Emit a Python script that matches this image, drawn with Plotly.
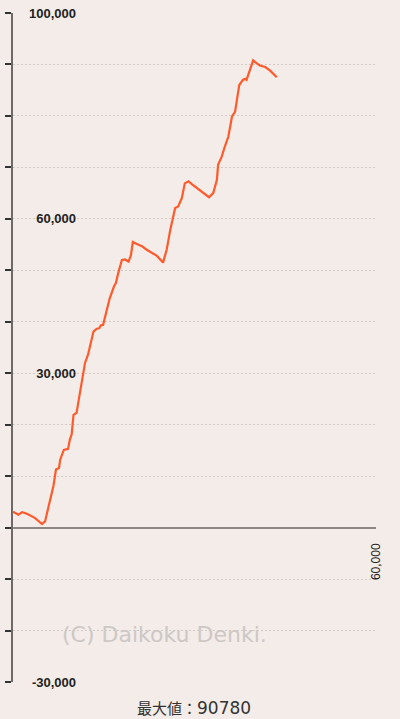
import plotly.graph_objects as go

games = [0, 900, 1500, 2300, 3600, 4800, 5300, 6000, 6700, 7100, 7600, 7800, 8400, 9100, 9400,
         9700, 10000, 10500, 11100, 11500, 11900, 12400, 12800, 13300, 13800, 14300, 14500, 14900,
         15500, 16000, 16700, 17000, 17400, 18000, 18500, 19100, 19500, 19800, 20300, 21300, 22100,
         22900, 23800, 24800, 25400, 26000, 26800, 27300, 27900, 28400, 29000, 29500, 30900, 32400,
         33100, 33700, 33900, 34500, 35000, 35600, 36200, 36700, 37100, 37400, 38000, 38400, 38600,
         39200, 39700, 40300, 40800, 41700, 42500, 43600]
balance = [3100, 2500, 3000, 2700, 1900, 700, 1200, 4500, 8200, 11300, 11600, 13200, 15100, 15300,
           17100, 18100, 21900, 22300, 26200, 28700, 32000, 33600, 35900, 38100, 38600, 38800, 39300,
           39400, 42300, 44600, 46900, 47500, 49500, 52000, 52100, 51700, 53000, 55500, 55200, 54700,
           54000, 53500, 52800, 51500, 54000, 57900, 62100, 62400, 64000, 66900, 67300, 66800, 65600,
           64200, 65000, 67600, 70500, 72100, 74000, 76000, 79900, 80800, 83800, 86000, 87000, 87200,
           87000, 89300, 90780, 90200, 89800, 89500, 88800, 87500]

y_range = [-30000, 100000]
x_range = [0, 60000]
y_label_vals = [100000, 60000, 30000, -30000]
y_label_text = ["100,000", "60,000", "30,000", "-30,000"]
x_label_vals = [60000]
x_label_text = ["60,000"]
max_label = "最大値："
max_value = "90780"
watermark = "(C) Daikoku Denki."

BG = "#f3ece8"
L, R, T, B = 13, 24, 13, 37
W, H = 400, 719
PW, PH = W - L - R, H - T - B

fig = go.Figure()
fig.add_trace(go.Scatter(x=games, y=balance, mode="lines",
                         line=dict(color="#ff5a2c", width=2.2),
                         showlegend=False, hoverinfo="skip"))
fig.add_trace(go.Scatter(x=[0], y=[0], yaxis="y2", mode="markers",
                         marker=dict(opacity=0), showlegend=False, hoverinfo="skip"))

fig.update_layout(
    width=W, height=H,
    margin=dict(l=L, r=R, t=T, b=B, autoexpand=False),
    paper_bgcolor=BG, plot_bgcolor=BG,
    xaxis=dict(range=x_range, anchor="free", position=30000 / 130000, automargin=False,
               showline=True, linecolor="#8c8684", linewidth=2,
               showgrid=False, zeroline=False,
               tickvals=x_label_vals, ticktext=x_label_text, tickangle=-90,
               ticks="outside", ticklen=10, tickcolor="rgba(0,0,0,0)",
               tickfont=dict(family="Liberation Sans", size=12, color="#222")),
    yaxis=dict(range=y_range, dtick=10000, tick0=0, automargin=False,
               showline=True, linecolor="#6e6866", linewidth=2,
               ticks="outside", ticklen=6, tickwidth=2, tickcolor="#333",
               showticklabels=False,
               showgrid=True, gridcolor="#d2cac6", gridwidth=1, griddash="2px,2px",
               zeroline=False),
    yaxis2=dict(range=y_range, overlaying="y", anchor="free", position=(76 - L) / PW,
                side="left", automargin=False,
                showline=False, showgrid=False, zeroline=False, ticks="",
                tickvals=y_label_vals, ticktext=y_label_text,
                tickfont=dict(family="Liberation Sans", size=13, color="#222", weight="bold")),
    annotations=[
        dict(text=watermark, xref="paper", yref="paper", x=(164 - L) / PW, y=(H - B - 634) / PH,
             yanchor="middle", xanchor="center", showarrow=False,
             font=dict(family="DejaVu Sans", size=22, color="#cdc8c6")),
        dict(text=max_label + "<span style='font-family:DejaVu Sans;font-size:17px'>" + max_value + "</span>",
             xref="paper", yref="paper", x=(194 - L) / PW, y=-(707 - (H - B)) / PH,
             yanchor="middle", xanchor="center", showarrow=False,
             font=dict(family="Noto Sans CJK JP", size=15, color="#333")),
    ],
)

fig.write_html("out.html", config={"displayModeBar": False},
               post_script="document.body.style.margin='0';")
